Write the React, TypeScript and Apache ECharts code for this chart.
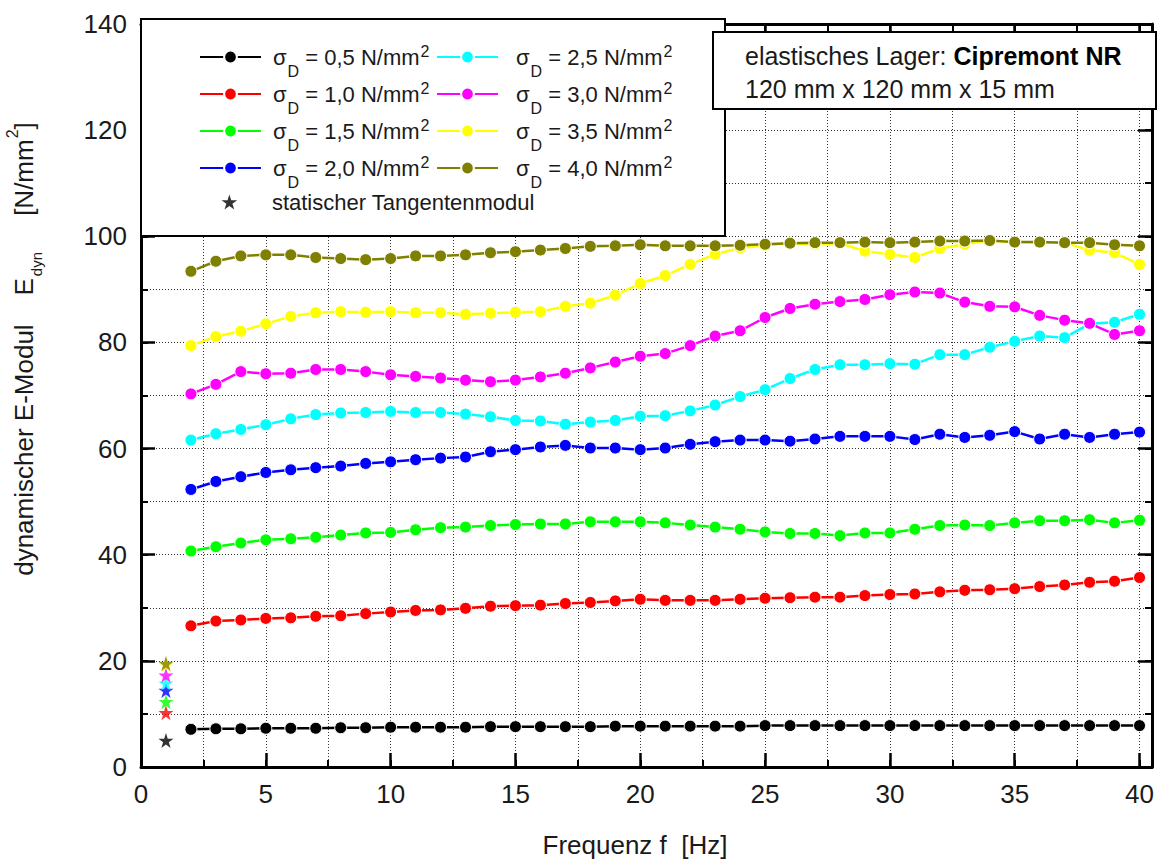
import { useEffect, useRef } from "react";
import * as echarts from "echarts";

// Prüffrequenzen [Hz]
const FREQ = [
  2, 3, 4, 5, 6, 7, 8, 9, 10, 11, 12, 13, 14, 15, 16, 17, 18, 19, 20, 21,
  22, 23, 24, 25, 26, 27, 28, 29, 30, 31, 32, 33, 34, 35, 36, 37, 38, 39, 40,
];

// Druckspannungen sigma_D [N/mm²] und Farben der Messreihen
const LOADS = ["0,5", "1,0", "1,5", "2,0", "2,5", "3,0", "3,5", "4,0"];
const COLORS = [
  "#000000", "#ff0000", "#00ff00", "#0000ff",
  "#00ffff", "#ff00ff", "#ffff00", "#808000",
];

// dynamischer E-Modul [N/mm²] je Frequenz
const E_05 = [
  7.1, 7.2, 7.2, 7.3, 7.3, 7.3, 7.4, 7.4, 7.5, 7.5, 7.5, 7.5, 7.6, 7.6, 7.6,
  7.6, 7.6, 7.7, 7.7, 7.7, 7.7, 7.7, 7.7, 7.8, 7.8, 7.8, 7.8, 7.8, 7.8, 7.8,
  7.8, 7.8, 7.8, 7.8, 7.8, 7.8, 7.8, 7.8, 7.8,
];
const E_10 = [
  26.6, 27.5, 27.7, 28.0, 28.1, 28.4, 28.5, 28.9, 29.2, 29.5, 29.6, 29.9, 30.3,
  30.4, 30.5, 30.8, 31.0, 31.3, 31.6, 31.4, 31.4, 31.4, 31.6, 31.8, 31.9, 32.0,
  32.0, 32.3, 32.5, 32.6, 33.0, 33.3, 33.4, 33.6, 34.0, 34.3, 34.8, 35.0, 35.7,
];
const E_15 = [
  40.7, 41.5, 42.2, 42.8, 43.0, 43.3, 43.7, 44.1, 44.2, 44.7, 45.1, 45.2, 45.5,
  45.7, 45.8, 45.8, 46.2, 46.2, 46.2, 46.0, 45.6, 45.2, 44.8, 44.3, 44.0, 44.0,
  43.6, 44.1, 44.1, 44.8, 45.5, 45.6, 45.5, 46.0, 46.4, 46.4, 46.6, 46.0, 46.5,
];
const E_20 = [
  52.3, 53.8, 54.7, 55.5, 56.0, 56.4, 56.7, 57.2, 57.5, 57.9, 58.2, 58.4, 59.4,
  59.8, 60.3, 60.6, 60.1, 60.1, 59.8, 60.1, 60.8, 61.3, 61.6, 61.6, 61.4, 61.8,
  62.3, 62.3, 62.3, 61.7, 62.7, 62.1, 62.5, 63.2, 61.8, 62.7, 62.1, 62.7, 63.1,
];
const E_25 = [
  61.6, 62.8, 63.6, 64.5, 65.6, 66.4, 66.7, 66.8, 67.0, 66.8, 66.8, 66.5, 66.0,
  65.3, 65.2, 64.6, 65.0, 65.3, 66.1, 66.2, 67.1, 68.2, 69.8, 71.1, 73.2, 74.9,
  75.8, 75.8, 76.0, 75.9, 77.7, 77.7, 79.1, 80.2, 81.2, 80.9, 83.5, 83.8, 85.3,
];
const E_30 = [
  70.3, 72.1, 74.5, 74.1, 74.2, 74.9, 74.9, 74.5, 73.9, 73.6, 73.3, 72.9, 72.6,
  72.9, 73.5, 74.2, 75.2, 76.3, 77.4, 77.9, 79.4, 81.2, 82.2, 84.7, 86.4, 87.2,
  87.7, 88.1, 89.0, 89.5, 89.3, 87.6, 86.8, 86.7, 85.1, 84.2, 83.6, 81.5, 82.2,
];
const E_35 = [
  79.4, 81.1, 82.1, 83.5, 84.9, 85.6, 85.8, 85.7, 85.8, 85.6, 85.6, 85.3, 85.5,
  85.7, 85.8, 86.8, 87.4, 88.9, 91.1, 92.6, 94.7, 96.6, 97.8, 98.3, 98.7, 98.5,
  98.7, 97.2, 96.6, 96.0, 97.7, 98.5, 99.2, 98.9, 98.8, 98.8, 97.4, 96.9, 94.7,
];
const E_40 = [
  93.4, 95.3, 96.3, 96.5, 96.5, 96.0, 95.8, 95.6, 95.8, 96.3, 96.3, 96.5, 96.9,
  97.1, 97.4, 97.7, 98.1, 98.2, 98.4, 98.2, 98.2, 98.2, 98.3, 98.5, 98.7, 98.8,
  98.8, 98.9, 98.8, 98.9, 99.1, 99.1, 99.2, 98.9, 98.9, 98.8, 98.8, 98.4, 98.2,
];
const E_DYN = [E_05, E_10, E_15, E_20, E_25, E_30, E_35, E_40];

// statischer Tangentenmodul je Laststufe, bei f = 1 eingetragen
const STATIC_FREQ = 1;
const E_STATIC = [5.0, 10.2, 12.3, 14.4, 15.8, 17.3, 19.3, 19.5];
const STATIC_NAME = "statischer Tangentenmodul";

// Achsbeschriftungen
const X_TICKS = [0, 5, 10, 15, 20, 25, 30, 35, 40];
const Y_TICKS = [0, 20, 40, 60, 80, 100, 120, 140];

const FONT = "'Liberation Sans', Arial, Helvetica, sans-serif";
const INK = "#1a1a1a";
const STAR =
  "path://M50,0 L61.23,34.55 L97.55,34.55 L68.17,55.9 L79.39,90.45 L50,69.1 L20.61,90.45 L31.83,55.9 L2.45,34.55 L38.77,34.55 Z";

const X_MAX = 40.5;
const GRID_LINE = { color: "#333", width: 1, type: [1, 2] as number[] };
const NB = "\u00a0";

function majorAxis(position: string, min: number, max: number, interval: number, labels: number[] | null) {
  return {
    type: "value",
    position,
    min,
    max,
    interval,
    axisLine: { show: true, onZero: false, lineStyle: { color: "#000", width: 3 } },
    axisTick: { show: true, inside: true, length: 14, lineStyle: { color: "#000", width: 2.5 } },
    axisLabel: labels
      ? {
          show: true,
          margin: 14,
          fontSize: 26,
          fontFamily: FONT,
          color: INK,
          formatter: (v: number) => (labels.indexOf(v) >= 0 ? String(v) : ""),
        }
      : { show: false },
    splitLine: { show: false },
  };
}

function minorAxis(position: string, min: number, max: number, interval: number, grid: boolean) {
  return {
    type: "value",
    position,
    min,
    max,
    interval,
    axisLine: { show: false, onZero: false },
    axisTick: { show: true, inside: true, length: 7, lineStyle: { color: "#000", width: 2 } },
    axisLabel: { show: false },
    splitLine: { show: grid, lineStyle: GRID_LINE },
  };
}

// Legendentext σ_D = … N/mm²; Hoch-/Tiefstellung über Innenabstände
function legendRich(padLeft: number) {
  const base = { fontFamily: FONT, color: INK, lineHeight: 24 };
  return {
    s: { ...base, fontSize: 22, padding: [0, 0, 0, padLeft] },
    d: { ...base, fontSize: 16, padding: [28, 0, 0, 1] },
    t: { ...base, fontSize: 22 },
    p: { ...base, fontSize: 16, padding: [0, 0, 12, 1] },
  };
}

const legendLabel = (name: string) => `{s|σ}{d|D}{t|${NB}= ${name} N/mm}{p|2}`;

export default function App() {
  const ref = useRef<HTMLDivElement>(null);

  useEffect(() => {
    if (!ref.current) return;
    const chart = echarts.init(ref.current, null, { renderer: "svg" });

    const lineSeries = LOADS.map((load, i) => ({
      type: "line",
      name: load,
      xAxisIndex: 0,
      yAxisIndex: 0,
      data: FREQ.map((f, j) => [f, E_DYN[i][j]]),
      symbol: "circle",
      symbolSize: 12,
      lineStyle: { color: COLORS[i], width: 2.5 },
      itemStyle: { color: COLORS[i], borderColor: "#fff", borderWidth: 1 },
      emphasis: { disabled: true },
      silent: true,
    }));

    const staticSeries = {
      type: "scatter",
      name: STATIC_NAME,
      xAxisIndex: 0,
      yAxisIndex: 0,
      symbol: STAR,
      symbolSize: 15,
      itemStyle: { color: "#000" },
      data: E_STATIC.map((v, i) => ({ value: [STATIC_FREQ, v], itemStyle: { color: COLORS[i] } })),
      z: 3,
      emphasis: { disabled: true },
      silent: true,
    };

    // vier Einträge je Spalte, Zeilenabstand 36 px
    const lineLegend = (left: number, names: string[], padLeft: number) => ({
      orient: "vertical",
      left,
      top: 35,
      padding: 0,
      itemGap: -7,
      itemWidth: 61,
      itemHeight: 16,
      selectedMode: false,
      z: 5,
      data: names,
      formatter: legendLabel,
      textStyle: { rich: legendRich(padLeft) },
    });

    chart.setOption({
      animation: false,
      backgroundColor: "#fff",
      textStyle: { fontFamily: FONT },
      grid: { left: 141, right: 10, top: 24, bottom: 92, containLabel: false },
      xAxis: [
        majorAxis("bottom", 0, X_MAX, 5, X_TICKS),
        minorAxis("bottom", 0, X_MAX, 2.5, true),
        majorAxis("top", 0, X_MAX, 5, null),
        minorAxis("top", 0, X_MAX, 2.5, false),
      ],
      yAxis: [
        majorAxis("left", 0, 140, 20, Y_TICKS),
        minorAxis("left", 0, 140, 10, true),
        majorAxis("right", 0, 140, 20, null),
        minorAxis("right", 0, 140, 10, false),
      ],
      legend: [
        lineLegend(199, LOADS.slice(0, 4), 7),
        lineLegend(436, LOADS.slice(4), 13),
        {
          orient: "vertical",
          left: 221.5,
          top: 190,
          padding: 0,
          itemWidth: 61,
          itemHeight: 15,
          selectedMode: false,
          z: 5,
          data: [{ name: STATIC_NAME, icon: STAR }],
          textStyle: { fontSize: 22, fontFamily: FONT, color: INK, lineHeight: 24, padding: [0, 0, 0, 7] },
        },
      ],
      graphic: [
        {
          type: "rect",
          z: 3,
          shape: { x: 141, y: 19, width: 584, height: 217 },
          style: { fill: "#fff", stroke: "#000", lineWidth: 2 },
        },
        {
          type: "rect",
          z: 3,
          shape: { x: 713, y: 32, width: 443, height: 77 },
          style: { fill: "#fff", stroke: "#000", lineWidth: 2 },
        },
        {
          type: "text",
          z: 6,
          x: 745,
          y: 56,
          style: {
            text: `{n|elastisches Lager:${NB}}{b|Cipremont NR}`,
            verticalAlign: "middle",
            align: "left",
            rich: {
              n: { fontSize: 25, fontFamily: FONT, fill: INK, color: INK },
              b: { fontSize: 25, fontFamily: FONT, fontWeight: "bold", fill: "#000", color: "#000" },
            },
          },
        },
        {
          type: "text",
          z: 6,
          x: 745,
          y: 89,
          style: {
            text: "120 mm x 120 mm x 15 mm",
            fontSize: 25,
            fontFamily: FONT,
            fill: INK,
            verticalAlign: "middle",
            align: "left",
          },
        },
        {
          type: "text",
          z: 6,
          x: 635,
          y: 845,
          style: {
            text: `Frequenz f${NB}${NB}[Hz]`,
            fontSize: 26,
            fontFamily: FONT,
            fill: INK,
            align: "center",
            verticalAlign: "middle",
          },
        },
        {
          type: "text",
          z: 6,
          x: 24,
          y: 349,
          rotation: Math.PI / 2,
          style: {
            text: `{a|dynamischer E-Modul${NB}${NB}${NB}${NB}E}{b|dyn}{a|${NB}${NB}${NB}${NB}${NB}[N/mm}{c|2}{a|]}`,
            align: "center",
            verticalAlign: "middle",
            rich: {
              a: { fontSize: 26, fontFamily: FONT, fill: INK, color: INK, lineHeight: 28 },
              b: { fontSize: 15, fontFamily: FONT, fill: INK, color: INK, lineHeight: 28, padding: [24, 0, 0, 2] },
              c: { fontSize: 16, fontFamily: FONT, fill: INK, color: INK, lineHeight: 28, padding: [0, 0, 23, 1] },
            },
          },
        },
      ],
      series: [...lineSeries, staticSeries],
    });

    return () => chart.dispose();
  }, []);

  return (
    <div
      ref={ref}
      style={{ position: "fixed", left: 0, top: 0, width: 1162, height: 859, background: "#fff" }}
    />
  );
}
